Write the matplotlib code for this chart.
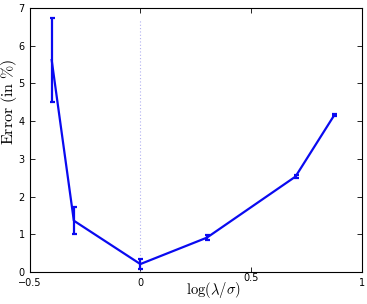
import matplotlib
matplotlib.use("Agg")
import matplotlib.pyplot as plt
import matplotlib.transforms as mtransforms

x_vals = [-0.4, -0.3, 0.0, 0.3, 0.7, 0.875]
err_mean = [5.62, 1.36, 0.21, 0.91, 2.53, 4.16]
err_std = [1.12, 0.36, 0.13, 0.07, 0.05, 0.02]
x_ticks = [-0.5, 0, 0.5, 1]
x_ticklabels = ["\u22120.5", "0", "0.5", "1"]
y_ticks = [0, 1, 2, 3, 4, 5, 6, 7]

plt.rcParams['mathtext.fontset'] = 'cm'

fig = plt.figure(figsize=(3.67, 3.04), dpi=100)
ax = fig.add_axes([0.0804, 0.1053, 0.906, 0.8684])

ax.plot([0, 0], [0, 6.68], linestyle=(0, (1, 2)), color='#b0b0f0', linewidth=0.8)
ax.errorbar(x_vals, err_mean, yerr=err_std, color='#0a0af0', linewidth=1.6,
            elinewidth=1.6, capsize=1.8, capthick=1.6)

ax.set_xlim(-0.5, 1)
ax.set_ylim(0, 7)
ax.set_xticks(x_ticks)
ax.set_xticklabels(x_ticklabels)
ax.set_yticks(y_ticks)
ax.tick_params(direction='in', top=True, right=True, length=3.5, width=0.6,
               labelsize=7, pad=3.5)
ax.tick_params(axis='x', pad=4)
for s in ax.spines.values():
    s.set_linewidth(0.8)

# the "0.5" label sits a little higher in the reference
lbl = ax.get_xticklabels()[2]
lbl.set_transform(lbl.get_transform() + mtransforms.ScaledTranslation(0, 5/100, fig.dpi_scale_trans))

ax.set_xlabel(r'$\log(\lambda/\sigma)$', fontsize=10.5)
ax.xaxis.set_label_coords(0.552, -0.068)
ax.xaxis.label.set_va('center')
ax.set_ylabel(r'$\mathrm{Error\ (in\ \%)}$', fontsize=11.5)
ax.yaxis.set_label_coords(-0.063, 0.644)
ax.yaxis.label.set_va('center')

fig.savefig('out.png', dpi=100)
